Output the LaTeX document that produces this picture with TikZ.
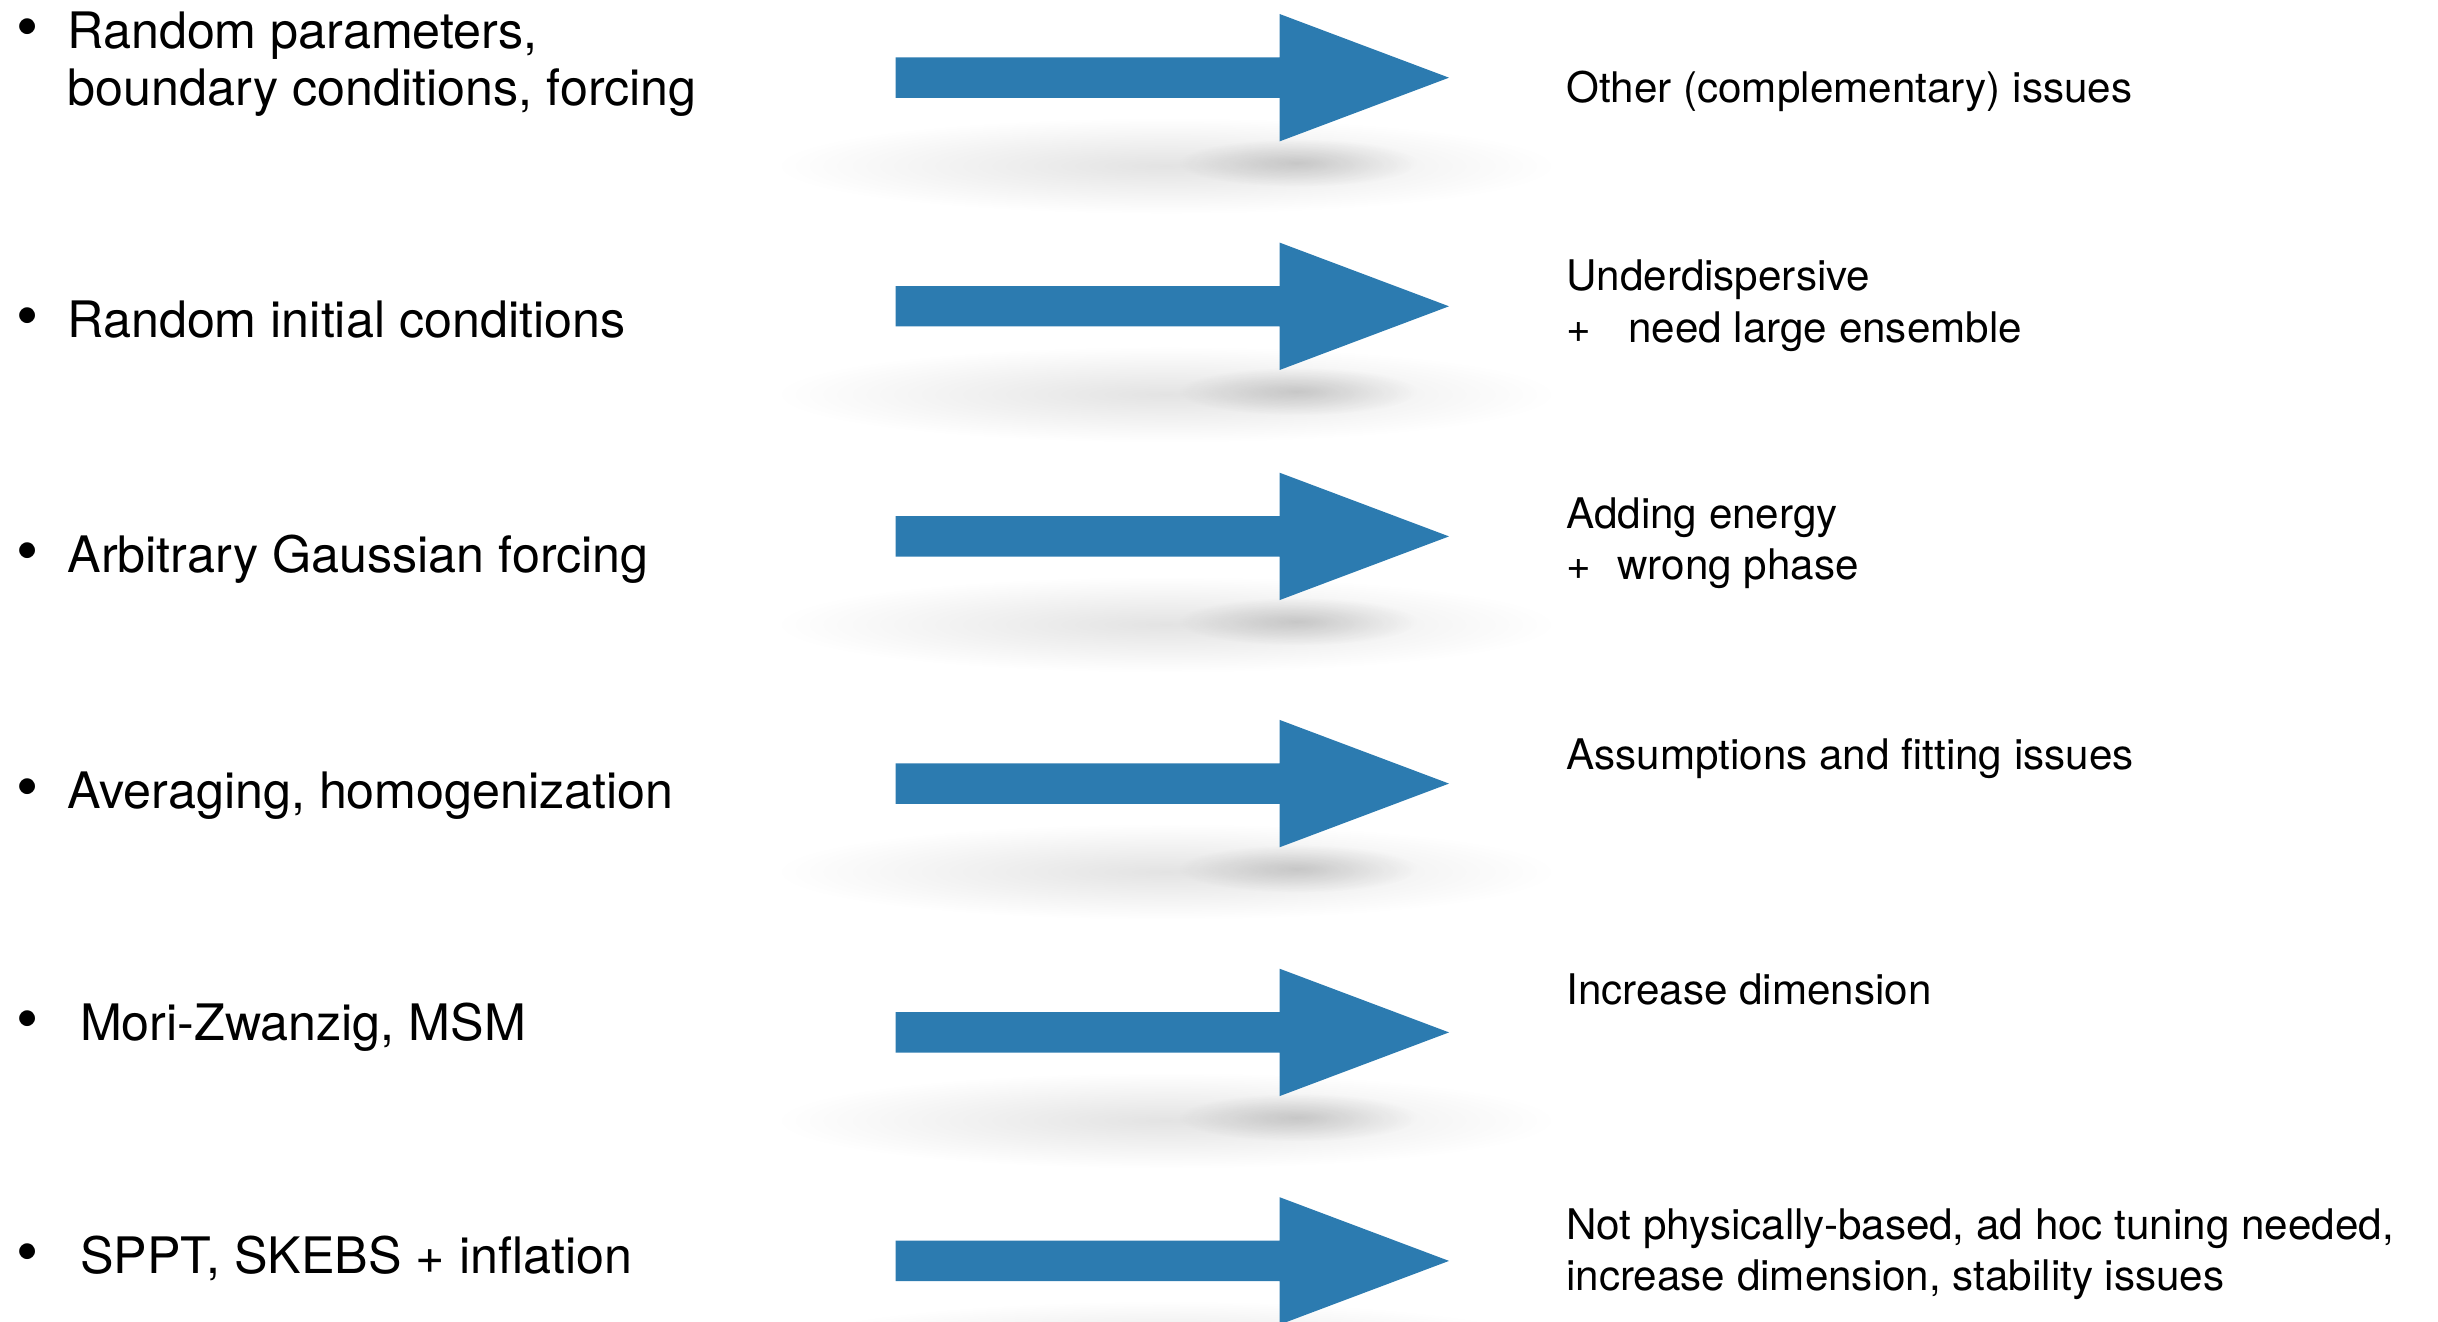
\documentclass[tikz,border=0pt]{standalone}
\usepackage{fontspec}
\setmainfont{TeX Gyre Heros}
\usetikzlibrary{positioning,fadings}
\definecolor{arrowblue}{RGB}{44,123,176}
\tikzfading[name=softshadow, inner color=transparent!0, outer color=transparent!100]

\begin{document}
\begin{tikzpicture}[
  lefttext/.style={anchor=base west, align=left, inner sep=0pt, font=\fontsize{14.3}{16.4}\selectfont},
  righttext/.style={anchor=base west, align=left, inner sep=0pt, font=\fontsize{12}{14.6}\selectfont},
  bulletdot/.style={anchor=base, inner sep=0pt, font=\fontsize{18}{20}\selectfont}
]
\useasboundingbox (0,0) rectangle (24.38,13.21);
\clip (0,0) rectangle (24.38,13.21);

% Shadows and block arrows
\foreach \y in {12.433, 10.147, 7.846, 5.374, 2.886, 0.601} {
    \fill[black, fill opacity=0.11, path fading=softshadow] (11.66, \y-0.88) ellipse (3.9cm and 0.48cm);
    \fill[black, fill opacity=0.16, path fading=softshadow] (12.98, \y-0.85) ellipse (1.2cm and 0.24cm);
    \fill[arrowblue] (8.956, \y-0.202) -- (12.796, \y-0.202) -- (12.796, \y-0.637) -- (14.49, \y)
        -- (12.796, \y+0.637) -- (12.796, \y+0.202) -- (8.956, \y+0.202) -- cycle;
}

% Left: bullet list
\node[bulletdot] (b1) at (0.28, 12.728) {•};
\node[lefttext] (src1) at (0.669, 12.153) {Random parameters,\\boundary conditions, forcing};
\node[bulletdot] (b2) at (0.28, 9.836) {•};
\node[lefttext] (src2) at (0.669, 9.836) {Random initial conditions};
\node[bulletdot] (b3) at (0.28, 7.488) {•};
\node[lefttext] (src3) at (0.669, 7.488) {Arbitrary Gaussian forcing};
\node[bulletdot] (b4) at (0.28, 5.125) {•};
\node[lefttext] (src4) at (0.669, 5.125) {Averaging, homogenization};
\node[bulletdot] (b5) at (0.28, 2.808) {•};
\node[lefttext] (src5) at (0.793, 2.808) {Mori-Zwanzig, MSM};
\node[bulletdot] (b6) at (0.28, 0.476) {•};
\node[lefttext] (src6) at (0.793, 0.476) {SPPT, SKEBS + inflation};

% Right: consequences
\node[righttext] (res1) at (15.657, 12.184) {Other (complementary) issues};
\node[righttext] (res2) at (15.657, 9.789) {Underdispersive\\+\hspace{10.6pt}need large ensemble};
\node[righttext] (res3) at (15.657, 7.411) {Adding energy\\+\hspace{7.5pt}wrong phase};
\node[righttext] (res4) at (15.657, 5.514) {Assumptions and fitting issues};
\node[righttext] (res5) at (15.657, 3.166) {Increase dimension};
\node[righttext] (res6) at (15.657, 0.305) {Not physically-based, ad hoc tuning needed,\\increase dimension, stability issues};

\end{tikzpicture}
\end{document}
